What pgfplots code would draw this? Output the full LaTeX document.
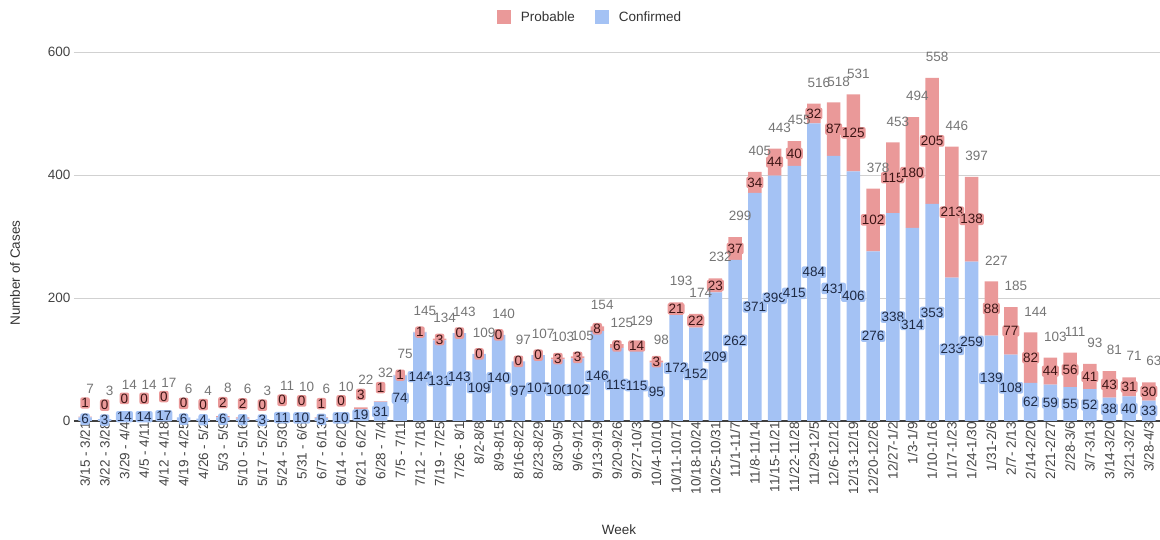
\documentclass[border=0pt]{standalone}
\usepackage{fontspec}
\setmainfont{Liberation Sans}
\usepackage{pgfplots}
\usepackage{pgfplotstable}
\pgfplotsset{compat=1.18}
\usetikzlibrary{calc}

\definecolor{conf}{HTML}{A4C2F4}
\definecolor{prob}{HTML}{EA9999}
\definecolor{confdark}{HTML}{1E2A44}
\definecolor{probdark}{HTML}{3C1414}
\definecolor{ticktext}{HTML}{444444}
\definecolor{totaltext}{HTML}{757575}

% x = week index, c = confirmed, p = probable, t = total
\pgfplotstableread{
x c p t
0 6 1 7
1 3 0 3
2 14 0 14
3 14 0 14
4 17 0 17
5 6 0 6
6 4 0 4
7 6 2 8
8 4 2 6
9 3 0 3
10 11 0 11
11 10 0 10
12 5 1 6
13 10 0 10
14 19 3 22
15 31 1 32
16 74 1 75
17 144 1 145
18 131 3 134
19 143 0 143
20 109 0 109
21 140 0 140
22 97 0 97
23 107 0 107
24 100 3 103
25 102 3 105
26 146 8 154
27 119 6 125
28 115 14 129
29 95 3 98
30 172 21 193
31 152 22 174
32 209 23 232
33 262 37 299
34 371 34 405
35 399 44 443
36 415 40 455
37 484 32 516
38 431 87 518
39 406 125 531
40 276 102 378
41 338 115 453
42 314 180 494
43 353 205 558
44 233 213 446
45 259 138 397
46 139 88 227
47 108 77 185
48 62 82 144
49 59 44 103
50 55 56 111
51 52 41 93
52 38 43 81
53 40 31 71
54 33 30 63
}\weeks

\pgfplotsset{
  samegeom/.style={
    at={(0,0)}, anchor=south west,
    scale only axis,
    width=1090pt, height=369pt,
    xmin=-0.56, xmax=54.77,
    ymin=0, ymax=600,
    clip=false,
    font=\fontsize{13.5}{15}\selectfont,
    /pgf/number format/assume math mode=true,
  },
}
\tikzset{
  seglabel/.style={anchor=center, inner sep=1pt, rounded corners=2pt,
    font=\fontsize{13.5}{15}\selectfont},
}

\begin{document}
\begin{tikzpicture}
\path[use as bounding box] (-74pt,-119pt) rectangle (1086pt,421pt);
\begin{axis}[
  samegeom,
  ybar stacked,
  bar width=13.5pt,
  axis line style={draw=none},
  major tick length=0pt,
  xtick={0,...,54},
  xticklabels={{3/15 - 3/21},{3/22 - 3/28},{3/29 - 4/4},{4/5 - 4/11},{4/12 - 4/18},{4/19 - 4/25},{4/26 - 5/2},{5/3 - 5/9},{5/10 - 5/16},{5/17 - 5/23},{5/24 - 5/30},{5/31 - 6/6},{6/7 - 6/13},{6/14 - 6/20},{6/21 - 6/27},{6/28 - 7/4},{7/5 - 7/11},{7/12 - 7/18},{7/19 - 7/25},{7/26 - 8/1},{8/2-8/8},{8/9-8/15},{8/16-8/22},{8/23-8/29},{8/30-9/5},{9/6-9/12},{9/13-9/19},{9/20-9/26},{9/27-10/3},{10/4-10/10},{10/11-10/17},{10/18-10/24},{10/25-10/31},{11/1-11/7},{11/8-11/14},{11/15-11/21},{11/22-11/28},{11/29-12/5},{12/6-12/12},{12/13-12/19},{12/20-12/26},{12/27-1/2},{1/3-1/9},{1/10-1/16},{1/17-1/23},{1/24-1/30},{1/31-2/6},{2/7- 2/13},{2/14-2/20},{2/21-2/27},{2/28-3/6},{3/7-3/13},{3/14-3/20},{3/21-3/27},{3/28-4/3}},
  xticklabel style={rotate=90, anchor=east, text=ticktext, inner sep=1pt},
  ytick={200,400,600},
  extra y ticks={0},
  extra y tick style={grid style={draw=black!75, line width=1.2pt}},
  yticklabel style={text=ticktext},
  ymajorgrids,
  grid style={draw=black!18, line width=0.8pt},
  xlabel={Week},
  xlabel style={at={(rel axis cs:0.5,0)}, anchor=center, yshift=-109pt, text=black!80},
  ylabel={Number of Cases},
  ylabel style={at={($(rel axis cs:0,0)+(-59pt,148pt)$)}, anchor=center, text=black!80},
  legend style={at={(0.5,1)}, anchor=center, xshift=-29pt, yshift=35pt,
    draw=none, fill=none, legend columns=-1,
    /tikz/every even column/.append style={column sep=18pt},
    text=black!80},
  legend image code/.code={\fill[#1] (0pt,-7pt) rectangle (14pt,7pt); \path (22pt,0pt);},
]
\addlegendimage{fill=prob, draw=none}
\addlegendentry{Probable}
\addlegendimage{fill=conf, draw=none}
\addlegendentry{Confirmed}
\addplot[fill=conf, draw=none,
  point meta=explicit,
  nodes near coords,
  nodes near coords style={seglabel, text=confdark, fill=conf}]
  table[x=x, y=c, meta=c] {\weeks};
\addplot[fill=prob, draw=none,
  point meta=explicit,
  visualization depends on={\thisrow{t} \as \tot},
  nodes near coords,
  nodes near coords style={seglabel, text=probdark, fill=prob,
    yshift={14*(\tot<40)}}]
  table[x=x, y=p, meta=p] {\weeks};
\end{axis}
% labels that the stacked axis leaves out: totals and zero probable values
\begin{axis}[samegeom, hide axis]
\addplot[draw=none, point meta=explicit,
  restrict expr to domain={\thisrow{p}}{0:0},
  visualization depends on={\thisrow{t} \as \tot},
  nodes near coords,
  nodes near coords style={seglabel, text=probdark, fill=prob,
    yshift={14*(\tot<40)}}]
  table[x=x, y=t, meta=p] {\weeks};
\addplot[draw=none, point meta=explicit,
  visualization depends on={\thisrow{t} \as \tot},
  nodes near coords,
  nodes near coords style={anchor=center, xshift=5pt, yshift={21+7*(\tot<40)},
    text=totaltext, font=\fontsize{13.5}{15}\selectfont}]
  table[x=x, y=t, meta=t] {\weeks};
\end{axis}
\end{tikzpicture}
\end{document}
